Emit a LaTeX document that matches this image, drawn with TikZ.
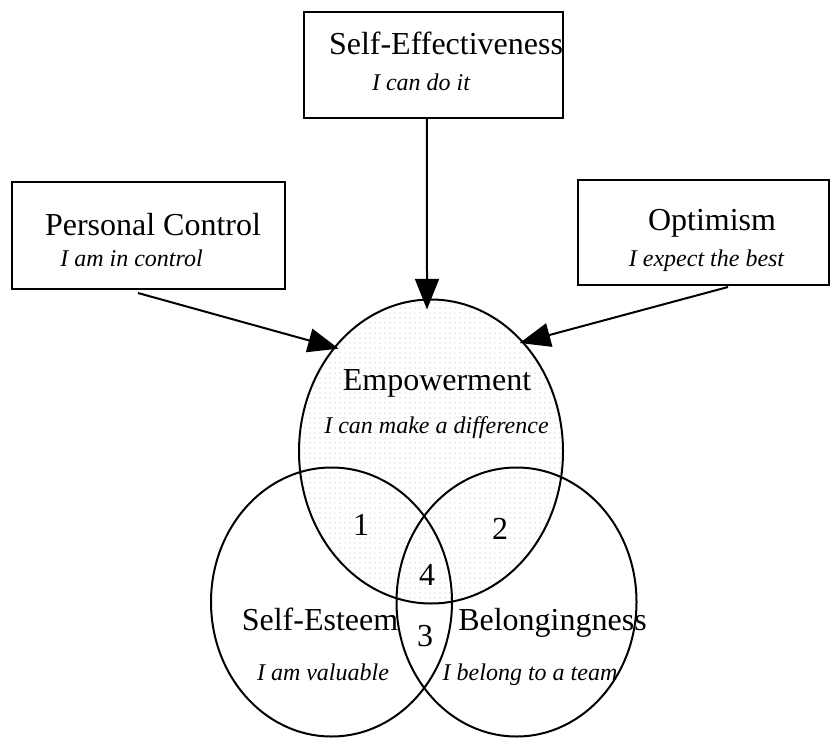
\documentclass[tikz,border=0pt]{standalone}
\usepackage{fontspec}
\setmainfont{Liberation Serif}
\usetikzlibrary{arrows.meta, patterns.meta, shapes.geometric}

\begin{document}
\begin{tikzpicture}[
    x=0.75pt, y=-0.75pt,
    box/.style={draw, line width=1.5pt, rectangle, inner sep=0pt, outer sep=0pt},
    ring/.style={draw, line width=1.5pt, ellipse, inner sep=0pt, outer sep=0pt},
    title/.style={anchor=base, font=\fontsize{24}{28}\selectfont},
    motto/.style={anchor=base, font=\fontsize{18}{21}\selectfont\itshape},
    num/.style={anchor=base, font=\fontsize{24}{28}\selectfont},
    arrow/.style={-{Triangle[length=23pt, width=18pt]}, line width=1.5pt},
]
\useasboundingbox (0,0) rectangle (831,738);

% circles
\node[ring, minimum width=198pt, minimum height=228pt,
      pattern={Dots[distance=3.75pt, radius=0.3pt]}, pattern color=black!75] (emp) at (431,451.5) {};
\node[ring, minimum width=180.75pt, minimum height=201.75pt] (est) at (331.5,602) {};
\node[ring, minimum width=180pt, minimum height=201.75pt] (bel) at (516.5,602) {};

% boxes
\node[box, minimum width=194.25pt, minimum height=79.5pt] (eff) at (433.5,65) {};
\node[box, minimum width=204.75pt, minimum height=80.25pt] (ctrl) at (148.5,235.5) {};
\node[box, minimum width=188.25pt, minimum height=78.75pt] (opt) at (703.5,232.5) {};

% texts
\node[title] (efft) at (446,55) {Self-Effectiveness};
\node[motto] (effm) at (421,91) {I can do it};
\node[title] (ctrlt) at (153,235) {Personal Control};
\node[motto] (ctrlm) at (131.5,266) {I am in control};
\node[title] (optt) at (712,230) {Optimism};
\node[motto] (optm) at (706.5,266) {I expect the best};
\node[title] (empt) at (437,390) {Empowerment};
\node[motto] (empm) at (436.5,433) {I can make a difference};
\node[title] (estt) at (320,630) {Self-Esteem};
\node[motto] (estm) at (323,680) {I am valuable};
\node[title] (belt) at (552.5,630) {Belongingness};
\node[motto] (belm) at (530,680) {I belong to a team};

% regions
\node[num] (n1) at (361,535) {1};
\node[num] (n2) at (500,539) {2};
\node[num] (n4) at (427,585) {4};
\node[num] (n3) at (425,646) {3};

% arrows
\draw[arrow] ([xshift=-4.9pt, yshift=0pt]eff.south) -- ([xshift=-3pt, yshift=-7.5pt]emp.north);
\draw[arrow] ([xshift=-7.9pt, yshift=-3pt]ctrl.south) -- ([xshift=2pt, yshift=-2pt]emp.132);
\draw[arrow] ([xshift=18.4pt, yshift=-1.5pt]opt.south) -- ([xshift=-1pt, yshift=-2pt]emp.51);

\end{tikzpicture}
\end{document}
